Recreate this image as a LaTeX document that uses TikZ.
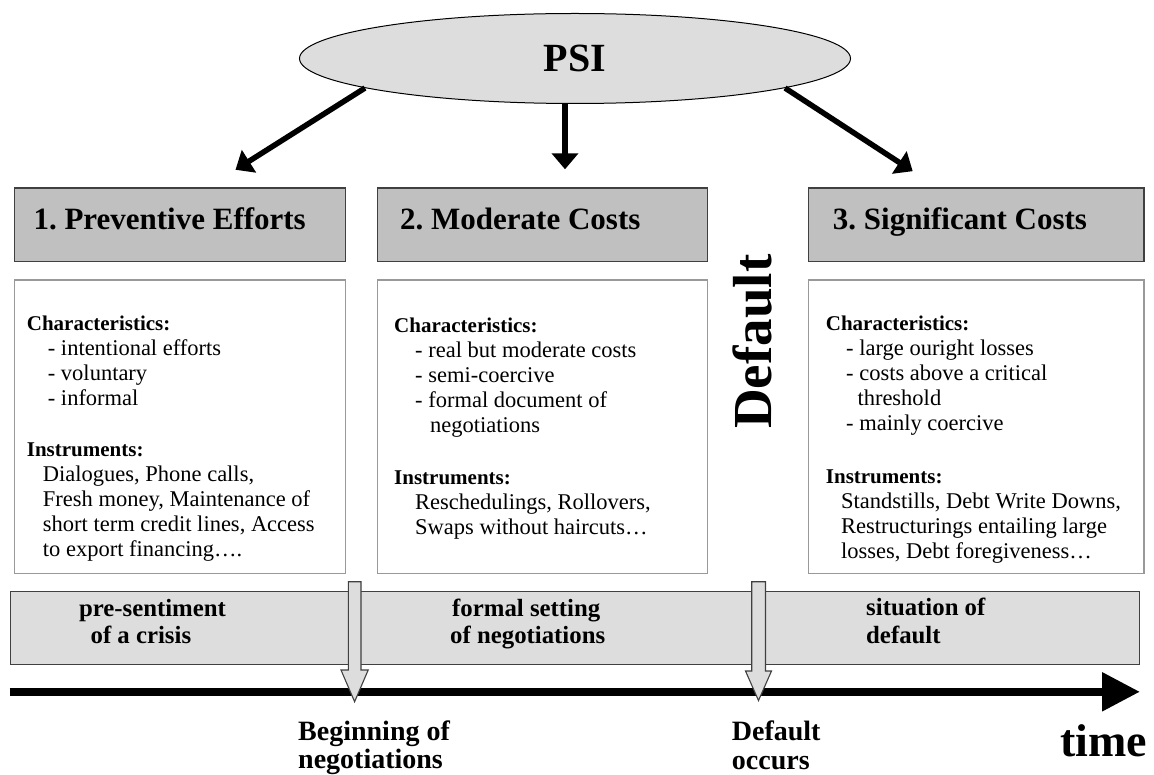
\documentclass[tikz,border=0pt]{standalone}
\usepackage{fontspec}
\setmainfont{Liberation Serif}
\usetikzlibrary{arrows.meta,shapes.geometric}
\newcommand\myfs[2]{\fontsize{#1}{#2}\selectfont}
\newcommand\hd[1]{{\myfs{21}{25}\bfseries #1}}
\definecolor{hdrgray}{HTML}{C0C0C0}
\definecolor{ltgray}{HTML}{DDDDDD}
\definecolor{edge}{HTML}{404040}
\definecolor{boxedge}{HTML}{999999}
\frenchspacing
\begin{document}
\begin{tikzpicture}[x=1pt,y=-1pt,
  psistyle/.style={ellipse, draw=black, line width=1pt, fill=ltgray, minimum width=551pt, minimum height=90pt, inner sep=0pt, font=\myfs{40}{48}\bfseries},
  bigarrow/.style={line width=5.5pt, -{Triangle[length=16pt,width=26pt]}},
  hdr/.style={draw=edge, fill=hdrgray, line width=1.3pt, anchor=north west, inner sep=0pt, minimum height=73.7pt},
  htxt/.style={anchor=base west, inner sep=0pt, font=\myfs{31}{36}\bfseries},
  cbox/.style={draw=boxedge, fill=white, line width=1.3pt, anchor=north west, inner sep=0pt, minimum height=293.4pt},
  ctxt/.style={anchor=base west, inner sep=0pt, font=\myfs{22.5}{24.9}},
  bar/.style={draw=edge, fill=ltgray, line width=1.3pt, anchor=north west, inner sep=0pt},
  bl/.style={anchor=base west, inner sep=0pt, font=\myfs{24.8}{30}\bfseries},
  lbl/.style={anchor=base west, inner sep=0pt, font=\myfs{28}{30}\bfseries},
  hollow/.style={draw=edge, fill=ltgray, line width=1.1pt, line join=miter}
]
\useasboundingbox (0,0) rectangle (1154,775);

% PSI ellipse and arrows
\node[psistyle] (psi) at (575,58.5) {PSI};
\coordinate (a1) at (235.5,169.8);
\coordinate (a2) at (565,169.3);
\coordinate (a3) at (912.7,171.2);
\draw[bigarrow] (psi.188) -- (a1);
\draw[bigarrow] (psi.south -| a2) -- (a2);
\draw[bigarrow] (psi.352.6) -- (a3);

% header boxes
\node[hdr, minimum width=331pt] (h1) at (14,187.3) {};
\node[hdr, minimum width=330.3pt] (h2) at (376.7,187.3) {};
\node[hdr, minimum width=335.3pt] (h3) at (808,187.3) {};
\node[htxt] (h1t) at (33.3,230) {1. Preventive Efforts};
\node[htxt] (h2t) at (400,230) {2. Moderate Costs};
\node[htxt] (h3t) at (832.7,230) {3. Significant Costs};

% content boxes
\node[cbox, minimum width=331pt] (c1) at (14,279.3) {};
\node[cbox, minimum width=330.3pt] (c2) at (376.7,279.3) {};
\node[cbox, minimum width=335.6pt] (c3) at (807.7,279.3) {};

\node[ctxt] (k1) at (26.7,331) {\begin{tabular}[t]{@{}l@{}}
\hd{Characteristics:}\\
\hspace*{21pt}- intentional efforts\\
\hspace*{21pt}- voluntary\\
\hspace*{21pt}- informal
\end{tabular}};
\node[ctxt] (i1) at (26.7,456.7) {\begin{tabular}[t]{@{}l@{}}
\hd{Instruments:}\\
\hspace*{16pt}Dialogues, Phone calls,\\
\hspace*{16pt}Fresh money, Maintenance of\\
\hspace*{16pt}short term credit lines, Access\\
\hspace*{16pt}to export financing….
\end{tabular}};

\node[ctxt] (k2) at (394,332.7) {\begin{tabular}[t]{@{}l@{}}
\hd{Characteristics:}\\
\hspace*{21pt}- real but moderate costs\\
\hspace*{21pt}- semi-coercive\\
\hspace*{21pt}- formal document of\\
\hspace*{36pt}negotiations
\end{tabular}};
\node[ctxt] (i2) at (394,484.3) {\begin{tabular}[t]{@{}l@{}}
\hd{Instruments:}\\
\hspace*{21pt}Reschedulings, Rollovers,\\
\hspace*{21pt}Swaps without haircuts…
\end{tabular}};

\node[ctxt] (k3) at (825.7,331) {\begin{tabular}[t]{@{}l@{}}
\hd{Characteristics:}\\
\hspace*{20.3pt}- large ouright losses\\
\hspace*{20.3pt}- costs above a critical\\
\hspace*{31.6pt}threshold\\
\hspace*{20.3pt}- mainly coercive
\end{tabular}};
\node[ctxt] (i3) at (825.7,483.3) {\begin{tabular}[t]{@{}l@{}}
\hd{Instruments:}\\
\hspace*{15.3pt}Standstills, Debt Write Downs,\\
\hspace*{15.3pt}Restructurings entailing large\\
\hspace*{15.3pt}losses, Debt foregiveness…
\end{tabular}};

% Default vertical label
\node[rotate=90, anchor=base, inner sep=0pt, font=\myfs{55}{60}\bfseries] (dflt) at (771.7,341.7) {Default};

% phase bar
\node[bar, minimum width=1129.2pt, minimum height=73.3pt] (bar) at (9.6,590.7) {};
\node[bl] (p1a) at (78.8,616) {pre-sentiment};
\node[bl] (p1b) at (90.4,643) {of a crisis};
\node[bl] (p2a) at (452,616) {formal setting};
\node[bl] (p2b) at (450,643) {of negotiations};
\node[bl] (p3a) at (866,615) {situation of};
\node[bl] (p3b) at (866,643) {default};

% timeline
\coordinate (t0) at (9.6,691.8);
\coordinate (t1) at (1140,691.8);
\draw[line width=8.5pt, -{Triangle[length=38pt,width=37pt]}] (t0) -- (t1);

% hollow pointers
\draw[hollow] (348.3,581.7) -- (361,581.7) -- (361,670) -- (368.2,670) -- (354.6,701.7) -- (341,670) -- (348.3,670) -- cycle;
\draw[hollow] (751.7,581.7) -- (765.5,581.7) -- (765.5,671) -- (771.5,671) -- (758.5,700.5) -- (745.5,671) -- (751.7,671) -- cycle;

% bottom labels
\node[lbl] (e1a) at (298,740) {Beginning of};
\node[lbl] (e1b) at (298,768) {negotiations};
\node[lbl] (e2a) at (731.7,740) {Default};
\node[lbl] (e2b) at (731.7,769.5) {occurs};
\node[anchor=base west, inner sep=0pt, font=\myfs{46}{50}\bfseries] (tm) at (1060,756.7) {time};
\end{tikzpicture}
\end{document}
